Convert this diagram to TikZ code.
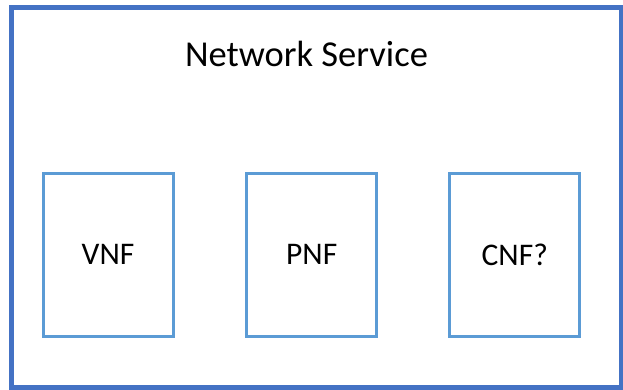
\documentclass[tikz,border=0pt]{standalone}
\usepackage{fontspec}
\setmainfont{Carlito}
\definecolor{outerblue}{HTML}{4472C4}
\definecolor{boxblue}{HTML}{5B9BD5}
\begin{document}
\begin{tikzpicture}[x=1pt, y=-1pt, every node/.style={font=\fontsize{31.5}{36}\selectfont}]
	\useasboundingbox (0,0) rectangle (623,390);
	\draw[draw=outerblue, line width=5pt] (11,7.5) rectangle (621,387);
	\node[anchor=base, font=\fontsize{36.5}{42}\selectfont] (Network Service) at (306.5,66.5) {Network Service};
	\node[draw=boxblue, rectangle, line width=3pt, minimum width=130pt, minimum height=162.5pt, align=center] (VNF) at (108,254.75) {VNF};
	\node[draw=boxblue, rectangle, line width=3pt, minimum width=130pt, minimum height=162.5pt, align=center] (PNF) at (311.75,254.75) {PNF};
	\node[draw=boxblue, rectangle, line width=3pt, minimum width=130pt, minimum height=162.5pt, align=center] (CNF) at (514.75,254.75) {CNF?};
\end{tikzpicture}
\end{document}
